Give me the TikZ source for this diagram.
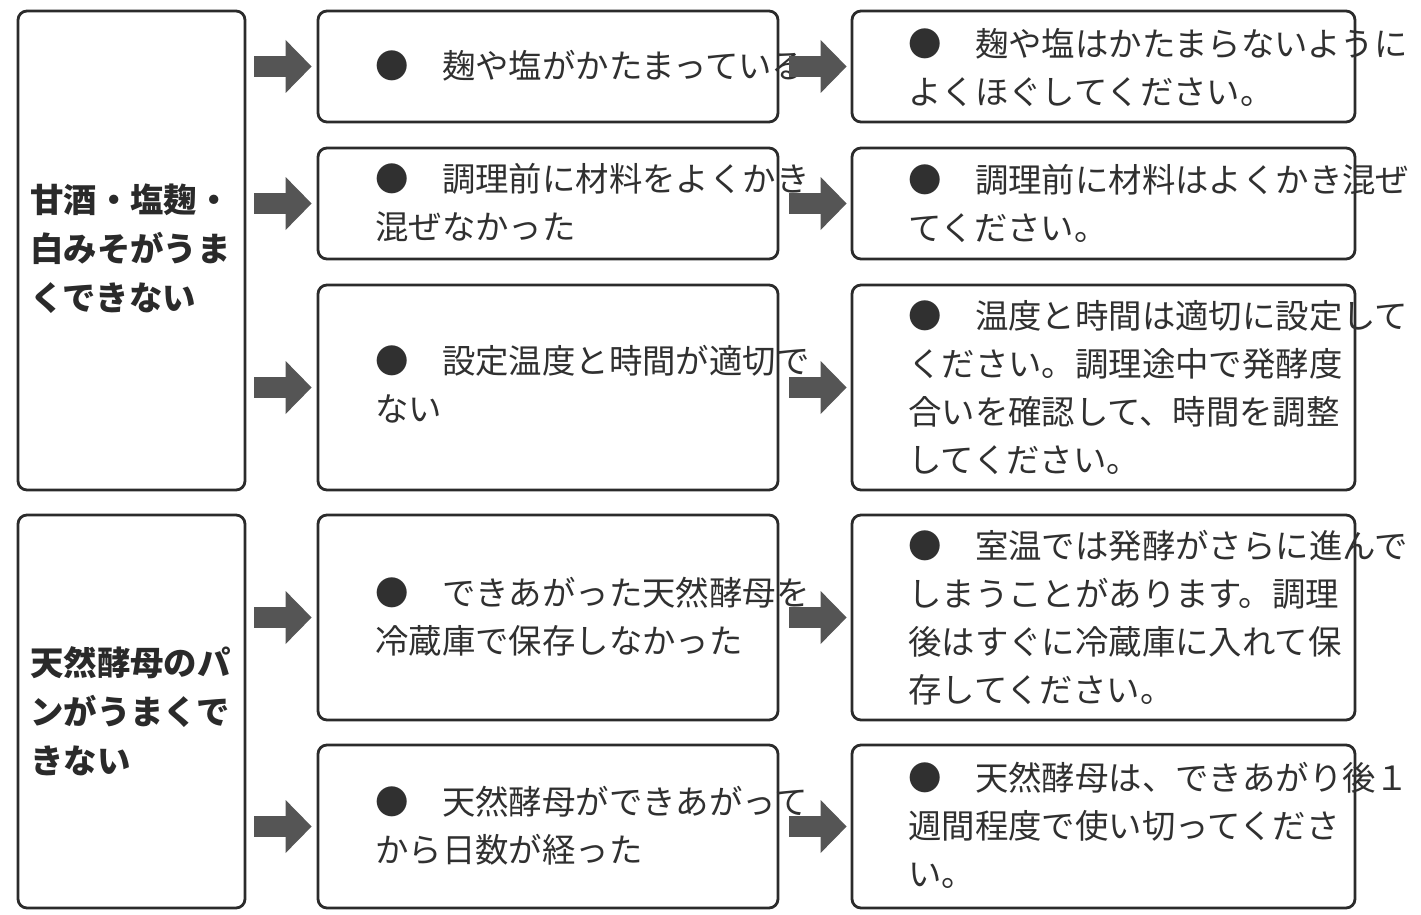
\documentclass[tikz,border=0pt]{standalone}
\usepackage{fontspec}
\setmainfont{Noto Sans CJK JP}
\usetikzlibrary{arrows.meta}
\definecolor{boxline}{HTML}{2B2B2B}
\definecolor{arrowgray}{HTML}{555555}
\definecolor{txtcol}{HTML}{303030}
\definecolor{headcol}{HTML}{2A2A2A}
\begin{document}
\begin{tikzpicture}[x=1pt,y=-1pt,
  box/.style={draw=boxline, line width=2.8pt, rounded corners=9pt, inner sep=0pt},
  leftbox/.style={box, minimum width=227pt},
  midbox/.style={box, minimum width=460pt},
  rightbox/.style={box, minimum width=503pt},
  txt/.style={anchor=west, inner sep=0pt, align=left, text=txtcol,
    font=\fontsize{33.4}{48}\selectfont},
  headtxt/.style={txt, text=headcol, font=\fontsize{33.4}{49}\selectfont\bfseries},
  fat/.style={draw=arrowgray, line width=21pt,
    -{Triangle[length=26pt,width=53pt,line width=0pt]}}]
\fill[white] (0,0) rectangle (1421,915);
\useasboundingbox (0,0) rectangle (1421,915);

% boxes
\node[leftbox, minimum height=479pt] (L1) at (131.5,250.5) {};
\node[leftbox, minimum height=393pt] (L2) at (131.5,711.5) {};
\node[midbox, minimum height=111pt] (M1) at (548,66.5) {};
\node[midbox, minimum height=111pt] (M2) at (548,203.5) {};
\node[midbox, minimum height=205pt] (M3) at (548,387.5) {};
\node[midbox, minimum height=205pt] (M4) at (548,617.5) {};
\node[midbox, minimum height=163pt] (M5) at (548,826.5) {};
\node[rightbox, minimum height=111pt] (R1) at (1103.5,66.5) {};
\node[rightbox, minimum height=111pt] (R2) at (1103.5,203.5) {};
\node[rightbox, minimum height=205pt] (R3) at (1103.5,387.5) {};
\node[rightbox, minimum height=205pt] (R4) at (1103.5,617.5) {};
\node[rightbox, minimum height=163pt] (R5) at (1103.5,826.5) {};

% texts
\node[headtxt] (tL1) at (30,249) {甘酒・塩麹・\\白みそがうま\\くできない};
\node[headtxt] (tL2) at (30,711) {天然酵母のパ\\ンがうまくで\\きない};

\node[txt] (tM1) at (375,66) {●　麹や塩がかたまっている};
\node[txt] (tM2) at (375,203) {●　調理前に材料をよくかき\\混ぜなかった};
\node[txt] (tM3) at (375,384) {●　設定温度と時間が適切で\\ない};
\node[txt] (tM4) at (375,616.5) {●　できあがった天然酵母を\\冷蔵庫で保存しなかった};
\node[txt] (tM5) at (375,826) {●　天然酵母ができあがって\\から日数が経った};

\node[txt] (tR1) at (908,67.5) {●　麹や塩はかたまらないように\\よくほぐしてください。};
\node[txt] (tR2) at (908,203) {●　調理前に材料はよくかき混ぜ\\てください。};
\node[txt] (tR3) at (908,388) {●　温度と時間は適切に設定して\\ください。調理途中で発酵度\\合いを確認して、時間を調整\\してください。};
\node[txt] (tR4) at (908,617.5) {●　室温では発酵がさらに進んで\\しまうことがあります。調理\\後はすぐに冷蔵庫に入れて保\\存してください。};
\node[txt] (tR5) at (908,825.5) {●　天然酵母は、できあがり後１\\週間程度で使い切ってくださ\\い。};

% arrows
\draw[fat] ([xshift=8pt]L1.east |- M1.west) -- ([xshift=-5pt]M1.west);
\draw[fat] ([xshift=8pt]L1.east |- M2.west) -- ([xshift=-5pt]M2.west);
\draw[fat] ([xshift=8pt]L1.east |- M3.west) -- ([xshift=-5pt]M3.west);
\draw[fat] ([xshift=8pt]L2.east |- M4.west) -- ([xshift=-5pt]M4.west);
\draw[fat] ([xshift=8pt]L2.east |- M5.west) -- ([xshift=-5pt]M5.west);

\draw[fat] ([xshift=10pt]M1.east) -- ([xshift=-4pt]R1.west);
\draw[fat] ([xshift=10pt]M2.east) -- ([xshift=-4pt]R2.west);
\draw[fat] ([xshift=10pt]M3.east) -- ([xshift=-4pt]R3.west);
\draw[fat] ([xshift=10pt]M4.east) -- ([xshift=-4pt]R4.west);
\draw[fat] ([xshift=10pt]M5.east) -- ([xshift=-4pt]R5.west);
\end{tikzpicture}
\end{document}
